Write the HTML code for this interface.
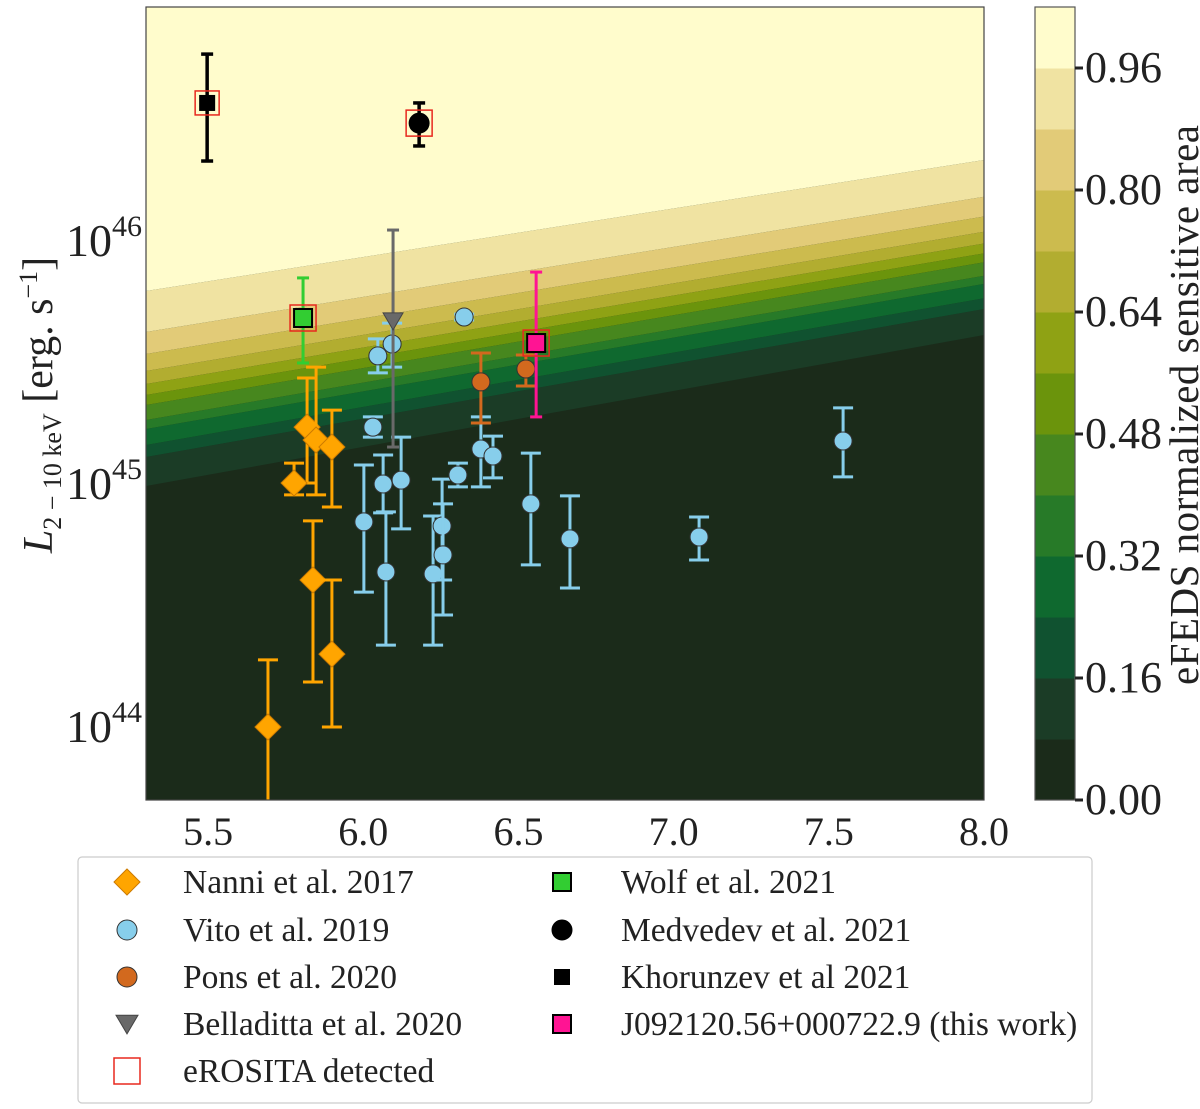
<!DOCTYPE html>
<html><head><meta charset="utf-8">
<style>
html,body{margin:0;padding:0;background:#fff;}
svg{display:block;font-family:"Liberation Serif",serif;}
</style></head>
<body>
<svg id="chart" width="1200" height="1109" viewBox="0 0 1200 1109" xmlns="http://www.w3.org/2000/svg">
<defs><clipPath id="pc"><rect x="146" y="7" width="838" height="793"/></clipPath></defs>
<g id="bg" clip-path="url(#pc)"></g>
<g id="marks" clip-path="url(#pc)"></g>
<rect x="146" y="7" width="838" height="793" fill="none" stroke="#444" stroke-width="1.2"/>
<g id="axes"></g>
<g id="cbar"></g>
<text transform="translate(52,405) rotate(-90)" text-anchor="middle" font-size="42" fill="#222"><tspan font-style="italic">L</tspan><tspan font-size="26" dy="9">2 − 10 keV</tspan><tspan dy="-9"> [erg. s</tspan><tspan font-size="26" dy="-15">−1</tspan><tspan dy="15">]</tspan></text>
<text transform="translate(1198,405) rotate(-90)" text-anchor="middle" font-size="41" fill="#222" textLength="560">eFEDS normalized sensitive area</text>
<g id="legend"></g>
</svg>
<script>
// ---- data ----
const nanniX=[5.819,5.848,5.899,5.777,5.838,5.899,5.693];
const nanniL=[45.230,45.177,45.148,45.000,44.601,44.296,43.996];
const nanniLo=[45.000,44.951,44.901,44.951,44.181,43.996,43.600];
const nanniHi=[45.432,45.477,45.300,45.082,44.844,44.601,44.272];
const vitoX=[6.002,6.064,6.122,6.073,6.225,6.254,6.257,6.305,6.379,6.418,6.540,6.666,6.031,6.047,6.093,6.325,7.546,7.082];
const vitoL=[44.840,44.996,45.012,44.634,44.626,44.823,44.704,45.033,45.140,45.111,44.914,44.770,45.230,45.523,45.572,45.683,45.173,44.778];
const vitoLo=[44.551,44.877,44.811,44.333,44.333,44.601,44.457,44.984,44.984,45.021,44.663,44.568,45.189,45.453,45.477,45.671,45.025,44.683];
const vitoHi=[45.074,45.115,45.189,44.881,44.864,45.016,44.914,45.082,45.272,45.193,45.123,44.947,45.272,45.593,45.658,45.695,45.309,44.860];
const ponsX=[6.379,6.524], ponsL=[45.416,45.469], ponsLo=[45.247,45.399], ponsHi=[45.535,45.527];
const bellX=[6.096], bellL=[45.667], bellLo=[45.148], bellHi=[46.041];
const wolfX=[5.806], wolfL=[45.679], wolfLo=[45.494], wolfHi=[45.844];
const thisX=[6.557], thisL=[45.576], thisLo=[45.272], thisHi=[45.868];
const khoX=[5.497], khoL=[46.564], khoLo=[46.325], khoHi=[46.765];
const medX=[6.180], medL=[46.481], medLo=[46.387], medHi=[46.564];
const xTicks=[5.5,6.0,6.5,7.0,7.5,8.0];
const yTicks=[44,45,46];
const cbTicks=[0.00,0.16,0.32,0.48,0.64,0.80,0.96];
const levels=[0,0.08,0.16,0.24,0.32,0.40,0.48,0.56,0.64,0.72,0.80,0.88,0.96,1.04];
const levelColors=["#1b2b1a","#1b3c26","#105230","#0f692f","#277a28","#47871e","#6b940c","#8fa214","#b2ad30","#ccbb4e","#e2cb78","#f0e3a2","#fffccc"];
// ---- axes ----
const NS="http://www.w3.org/2000/svg";
const X=v=>146+(v-5.3)*(838/2.7);
const Y=l=>240-(l-46)*243;
const CB=v=>800-v/0.08*61;
function el(t,a,p){const e=document.createElementNS(NS,t);for(const k in a)e.setAttribute(k,a[k]);p.appendChild(e);return e;}
const bg=document.getElementById('bg'),marks=document.getElementById('marks'),axes=document.getElementById('axes'),cbar=document.getElementById('cbar'),leg=document.getElementById('legend');
const leftB=[486,457,445,429,420,405,395,384,371,354,332,291];
const rightB=leftB.map(v=>160+(v-291)*175/195);
el('rect',{x:146,y:7,width:838,height:793,fill:levelColors[0]},bg);
for(let i=0;i<12;i++){
  const top=i<11?[leftB[i+1],rightB[i+1]]:[0,0];
  const p=el('polygon',{points:`146,${leftB[i]} 984,${rightB[i]} 984,${top[1]} 146,${top[0]}`,fill:levelColors[i+1]},bg);
  
  
}
xTicks.forEach(v=>{
  const t=el('text',{x:X(v),y:845,'text-anchor':'middle','font-size':40,fill:'#222'},axes);t.textContent=v.toFixed(1);
  
  
});
yTicks.forEach(v=>{
  const t=el('text',{x:142,y:Y(v)+16,'text-anchor':'end','font-size':46,fill:'#222'},axes);
  t.innerHTML=`10<tspan font-size="30" dy="-20">${v}</tspan>`;
  
  
});
for(let i=0;i<13;i++){
  const r=el('rect',{x:1035,y:CB(levels[i+1]),width:40,height:CB(levels[i])-CB(levels[i+1])+0.5,fill:levelColors[i]},cbar);
  
  
}
el('rect',{x:1035,y:CB(1.04),width:40,height:CB(0)-CB(1.04),fill:'none',stroke:'#555','stroke-width':1.2},cbar);
cbTicks.forEach(v=>{
  el('line',{x1:1075,x2:1083,y1:CB(v),y2:CB(v),stroke:'#222','stroke-width':3},cbar);
  const t=el('text',{x:1085,y:CB(v)+14,'font-size':44,fill:'#222'},cbar);t.textContent=v.toFixed(2);
  
  
});
function errbar(x,lo,hi,color,w,cap,g){
  el('line',{x1:x,x2:x,y1:Y(lo),y2:Y(hi),stroke:color,'stroke-width':w},g);
  el('line',{x1:x-cap,x2:x+cap,y1:Y(lo),y2:Y(lo),stroke:color,'stroke-width':w},g);
  el('line',{x1:x-cap,x2:x+cap,y1:Y(hi),y2:Y(hi),stroke:color,'stroke-width':w},g);
}
function marker(type,cx,cy,fill,size,stroke,g){
  if(type==='circle')return el('circle',{cx,cy,r:size,fill,stroke,'stroke-width':1},g);
  if(type==='diamond')return el('polygon',{points:`${cx},${cy-size} ${cx+size},${cy} ${cx},${cy+size} ${cx-size},${cy}`,fill,stroke,'stroke-width':1},g);
  if(type==='square')return el('rect',{x:cx-size,y:cy-size,width:2*size,height:2*size,fill,stroke,'stroke-width':2},g);
  if(type==='tri')return el('polygon',{points:`${cx-size},${cy-size*0.8} ${cx+size},${cy-size*0.8} ${cx},${cy+size*0.9}`,fill,stroke,'stroke-width':1},g);
  if(type==='box')return el('rect',{x:cx-size,y:cy-size,width:2*size,height:2*size,fill:'none',stroke:'#e8281e','stroke-width':1.5},g);
}
function series(name,xs,ls,los,his,type,fill,ecol,size,ew,cap,stroke,det){
  xs.forEach((v,i)=>{
    const g=el('g',{},marks);
    
    
    errbar(X(v),los[i],his[i],ecol,ew,cap,g);
    marker(type,X(v),Y(ls[i]),fill,size,stroke,g);
    if(det)marker('box',X(v),Y(ls[i]),'',det,'',g);
  });
}
series('nanni',nanniX,nanniL,nanniLo,nanniHi,'diamond','#ffa500','#ffa500',13,3,10,'#cc7a00');
series('vito',vitoX,vitoL,vitoLo,vitoHi,'circle','#87ceeb','#87ceeb',9,3,10,'#333');
series('pons',ponsX,ponsL,ponsLo,ponsHi,'circle','#d2691e','#d2691e',9,3,10,'#333');
series('belladitta',bellX,bellL,bellLo,bellHi,'tri','#696969','#696969',10,3,6,'#444');
series('wolf',wolfX,wolfL,wolfLo,wolfHi,'square','#32cd32','#32cd32',9,3,6,'#000',13);
series('this-work',thisX,thisL,thisLo,thisHi,'square','#ff1493','#ff1493',9,3,6,'#000',13);
series('khorunzev',khoX,khoL,khoLo,khoHi,'square','#000','#000',7,3.5,6,'#000',12);
series('medvedev',medX,medL,medLo,medHi,'circle','#000','#000',10,3.5,6,'#000',13);
el('rect',{x:78,y:857,width:1014,height:246,rx:4,fill:'#fff',stroke:'#ccc','stroke-width':1.2},leg);
const entries=[
 [127,882,'diamond','#ffa500',13,'#cc7a00','Nanni et al. 2017',183],
 [127,930,'circle','#87ceeb',10,'#333','Vito et al. 2019',183],
 [127,977,'circle','#d2691e',10,'#333','Pons et al. 2020',183],
 [127,1024,'tri','#696969',11,'#444','Belladitta et al. 2020',183],
 [127,1071,'box','',13,'','eROSITA detected',183],
 [562,882,'square','#32cd32',9,'#000','Wolf et al. 2021',621],
 [562,930,'circle','#000',10,'#000','Medvedev et al. 2021',621],
 [562,977,'square','#000',7,'#000','Khorunzev et al 2021',621],
 [562,1024,'square','#ff1493',9,'#000','J092120.56+000722.9 (this work)',621]];
entries.forEach(e=>{
  const g=el('g',{},leg);
  
  
  marker(e[2],e[0],e[1],e[3],e[4],e[5],g);
  const t=el('text',{x:e[7],y:e[1]+11,'font-size':33.5,fill:'#222'},g);t.textContent=e[6];
});
</script>
</body></html>
